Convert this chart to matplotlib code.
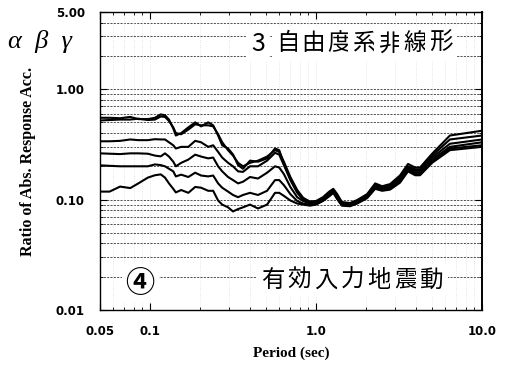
import matplotlib

matplotlib.use("Agg")
import matplotlib.pyplot as plt
from matplotlib.ticker import FixedLocator, NullFormatter

# --- data: period (sec) and ratio of absolute response acceleration ---
period = [0.05, 0.057, 0.066, 0.076, 0.085, 0.097, 0.107, 0.116, 0.123, 0.13,
          0.138, 0.143, 0.154, 0.17, 0.187, 0.203, 0.224, 0.24, 0.257, 0.272,
          0.295, 0.316, 0.339, 0.363, 0.40, 0.447, 0.507, 0.566, 0.60, 0.64,
          0.70, 0.77, 0.835, 0.92, 1.0, 1.1, 1.2, 1.27, 1.34, 1.43,
          1.6, 1.77, 2.03, 2.27, 2.5, 2.79, 3.2, 3.58, 3.95, 4.23,
          5.0, 6.4, 10.0]

ratio_1 = [0.55, 0.55, 0.545, 0.56, 0.535, 0.535, 0.55, 0.59, 0.58, 0.53,
           0.44, 0.38, 0.40, 0.45, 0.50, 0.46, 0.50, 0.47, 0.38, 0.31,
           0.29, 0.256, 0.205, 0.19, 0.225, 0.22, 0.236, 0.29, 0.28, 0.21,
           0.155, 0.118, 0.102, 0.096, 0.097, 0.105, 0.118, 0.125, 0.112, 0.095,
           0.093, 0.099, 0.112, 0.14, 0.132, 0.138, 0.165, 0.21, 0.195, 0.195,
           0.26, 0.38, 0.42]
ratio_2 = [0.52, 0.525, 0.53, 0.53, 0.54, 0.525, 0.53, 0.565, 0.56, 0.515,
           0.45, 0.40, 0.39, 0.43, 0.48, 0.47, 0.47, 0.46, 0.39, 0.33,
           0.28, 0.25, 0.215, 0.20, 0.215, 0.225, 0.245, 0.28, 0.27, 0.22,
           0.16, 0.122, 0.104, 0.095, 0.095, 0.103, 0.115, 0.122, 0.108, 0.093,
           0.091, 0.097, 0.11, 0.136, 0.129, 0.135, 0.158, 0.20, 0.188, 0.188,
           0.25, 0.35, 0.38]
ratio_3 = [0.337, 0.337, 0.34, 0.35, 0.345, 0.345, 0.352, 0.35, 0.35, 0.33,
           0.31, 0.29, 0.30, 0.30, 0.34, 0.33, 0.30, 0.31, 0.27, 0.24,
           0.215, 0.20, 0.18, 0.178, 0.20, 0.20, 0.225, 0.265, 0.255, 0.205,
           0.15, 0.115, 0.10, 0.093, 0.093, 0.10, 0.112, 0.12, 0.106, 0.091,
           0.09, 0.095, 0.108, 0.133, 0.126, 0.13, 0.152, 0.194, 0.182, 0.182,
           0.24, 0.32, 0.35]
ratio_4 = [0.262, 0.26, 0.258, 0.262, 0.262, 0.26, 0.25, 0.246, 0.262, 0.245,
           0.22, 0.20, 0.215, 0.23, 0.255, 0.245, 0.236, 0.24, 0.20, 0.18,
           0.16, 0.15, 0.14, 0.145, 0.16, 0.155, 0.175, 0.20, 0.195, 0.17,
           0.13, 0.105, 0.097, 0.092, 0.092, 0.099, 0.11, 0.118, 0.104, 0.09,
           0.089, 0.094, 0.106, 0.13, 0.124, 0.127, 0.148, 0.19, 0.176, 0.176,
           0.23, 0.30, 0.33]
ratio_5 = [0.204, 0.202, 0.20, 0.20, 0.20, 0.20, 0.208, 0.205, 0.20, 0.19,
           0.18, 0.162, 0.168, 0.16, 0.175, 0.165, 0.162, 0.165, 0.14, 0.128,
           0.118, 0.11, 0.105, 0.11, 0.115, 0.11, 0.12, 0.15, 0.15, 0.135,
           0.112, 0.097, 0.092, 0.09, 0.091, 0.098, 0.108, 0.116, 0.102, 0.089,
           0.088, 0.093, 0.104, 0.127, 0.122, 0.125, 0.145, 0.185, 0.17, 0.17,
           0.22, 0.29, 0.31]
ratio_6 = [0.118, 0.118, 0.131, 0.127, 0.14, 0.158, 0.166, 0.169, 0.158, 0.14,
           0.125, 0.116, 0.122, 0.115, 0.13, 0.128, 0.12, 0.12, 0.098, 0.09,
           0.085, 0.078, 0.082, 0.085, 0.09, 0.083, 0.09, 0.115, 0.115, 0.108,
           0.098, 0.092, 0.09, 0.088, 0.09, 0.097, 0.107, 0.115, 0.101, 0.088,
           0.087, 0.092, 0.103, 0.125, 0.12, 0.123, 0.142, 0.18, 0.166, 0.166,
           0.215, 0.28, 0.30]
curves = [ratio_1, ratio_2, ratio_3, ratio_4, ratio_5, ratio_6]

x_ticks = [0.05, 0.1, 1.0, 10.0]
x_tick_labels = ["0.05", "0.1", "1.0", "10.0"]
y_ticks = [0.01, 0.1, 1.0, 5.0]
y_tick_labels = ["0.01", "0.10", "1.00", "5.00"]
x_minor = [0.06, 0.07, 0.08, 0.09, 0.2, 0.3, 0.4, 0.5, 0.6, 0.7, 0.8, 0.9,
           2, 3, 4, 5, 6, 7, 8, 9]
y_minor = [0.02, 0.03, 0.04, 0.05, 0.06, 0.07, 0.08, 0.09,
           0.2, 0.3, 0.4, 0.5, 0.6, 0.7, 0.8, 0.9, 2, 3, 4]

model_title = "3自由度系非線形"
input_title = "有効入力地震動"
panel_mark = "④"

CJK = ["Noto Sans CJK JP", "DejaVu Sans"]

fig = plt.figure(figsize=(5.08, 3.73), dpi=100)
fig.patch.set_facecolor("white")
ax = fig.add_axes([0.197, 0.169, 0.752, 0.799])
ax.set_xscale("log")
ax.set_yscale("log")
ax.set_xlim(0.05, 10.0)
ax.set_ylim(0.01, 5.0)

# dotted grid: dark horizontals, faint verticals
for v in y_minor + [0.1, 1.0]:
    ax.axhline(v, color="0.2", lw=0.6, ls=(0, (2.5, 1.5)), zorder=1)
for v in x_minor + [0.1, 1.0]:
    ax.axvline(v, color="0.8", lw=0.5, ls=(0, (1, 2.5)), zorder=1)

for r in curves:
    ax.plot(period, r, color="black", lw=1.5, zorder=3)

ax.xaxis.set_major_locator(FixedLocator(x_ticks))
ax.xaxis.set_minor_locator(FixedLocator(x_minor))
ax.yaxis.set_major_locator(FixedLocator(y_ticks))
ax.yaxis.set_minor_locator(FixedLocator(y_minor))
ax.xaxis.set_minor_formatter(NullFormatter())
ax.yaxis.set_minor_formatter(NullFormatter())
ax.set_xticklabels(x_tick_labels, fontsize=8.5, fontweight="bold",
                   family="DejaVu Sans")
ax.set_yticklabels(y_tick_labels, fontsize=8.5, fontweight="bold",
                   family="DejaVu Sans")
ax.tick_params(which="major", direction="in", length=5, width=0.8,
               top=True, right=True, pad=11)
ax.tick_params(which="minor", direction="in", length=2.5, width=0.6,
               top=True, right=True)
for s in ax.spines.values():
    s.set_linewidth(1.0)
ax.spines["right"].set_linewidth(1.4)

ax.set_xlabel("Period (sec)", fontsize=11, fontweight="bold",
              family="Liberation Serif", labelpad=6)
ax.set_ylabel("Ratio of Abs. Response Acc.", fontsize=11.5, fontweight="bold",
              family="Liberation Serif", labelpad=14)

box = dict(facecolor="white", edgecolor="none", pad=3)
fig.text(0.016, 0.89, "\u03b1  \u03b2  \u03b3", fontsize=19, style="italic",
         family="Liberation Serif", va="center", ha="left")

# spaced-out annotation lettering, one glyph at a time
ax.text(0.414, 0.893, model_title[0], transform=ax.transAxes, fontsize=18,
        family=CJK, va="center", ha="center", bbox=box, zorder=4)
for i, ch in enumerate(model_title[1:]):
    ax.text(0.491 + i * 0.0668, 0.893, ch, transform=ax.transAxes,
            fontsize=17, family=CJK, va="center", ha="center", bbox=box,
            zorder=4)
for i, ch in enumerate(input_title):
    ax.text(0.453 + i * 0.0694, 0.10, ch, transform=ax.transAxes,
            fontsize=17, family=CJK, va="center", ha="center", bbox=box,
            zorder=4)
ax.text(0.105, 0.09, panel_mark, transform=ax.transAxes, fontsize=21,
        fontweight="bold", family=CJK, va="center", ha="center", bbox=box,
        zorder=4)

fig.savefig("out.png", dpi=100, facecolor="white")
